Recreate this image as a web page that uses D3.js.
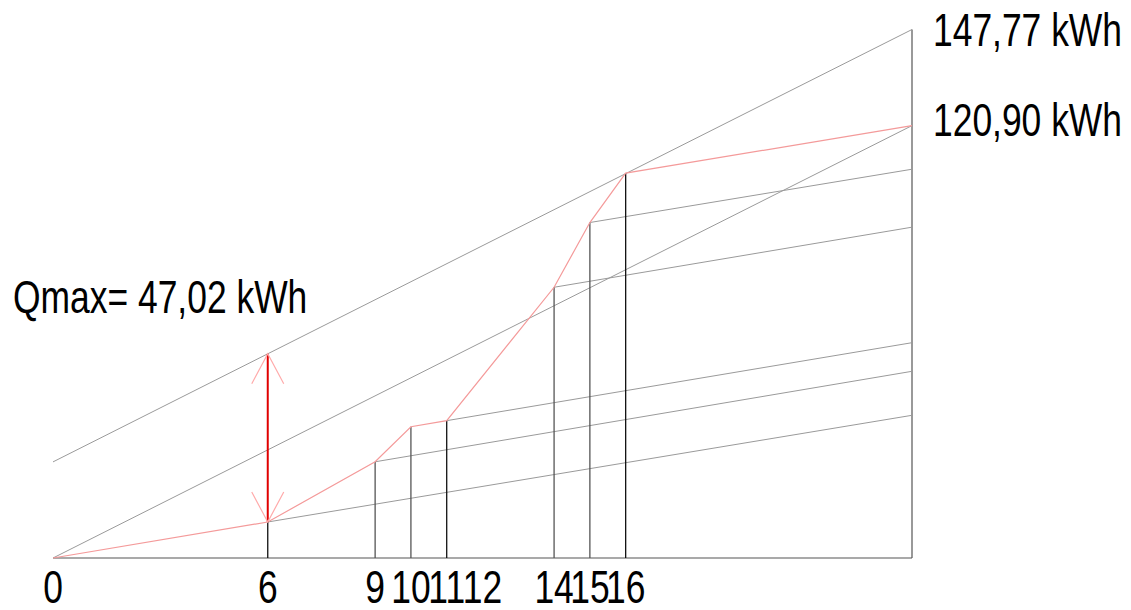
<!DOCTYPE html>
<html>
<head>
<meta charset="utf-8">
<script src="https://cdn.jsdelivr.net/npm/d3@7"></script>
<style>
  html, body { margin: 0; padding: 0; background: #fff; }
  text { font-family: Arial, 'Liberation Sans', sans-serif; fill: #000; }
</style>
</head>
<body>
<div id="chart"></div>
<script>
// cumulative consumption (red curve), hours vs kWh
const curveHours = [0, 6, 9, 10, 11, 14, 15, 16, 24];
const curveEnergy = [0, 10.07, 26.9, 36.7, 38.4, 75.7, 93.8, 107.6, 120.9];

// parallel guide lines starting at curve breakpoints, value reached at hour 24
const guideStartHours = [6, 9, 11, 14, 15];
const guideEndEnergy = [39.9, 52.2, 60.2, 92.5, 108.7];

// verticals drawn from the baseline up to the curve
const verticalHours = [6, 9, 10, 11, 14, 15, 16];

// tick labels on the hour axis
const tickHours = [0, 6, 9, 10, 11, 12, 14, 15, 16];

const totalEnergy = 120.9;
const maxEnergy = 147.77;
const offsetEnergy = maxEnergy - totalEnergy; // top line shift
const qmaxHour = 6;
const qmaxLabel = 'Qmax= 47,02 kWh';
const rightLabels = ['147,77 kWh', '120,90 kWh'];

const width = 1131, height = 610;
const margin = { left: 53, right: 219, top: 29.5, bottom: 52 };

const svg = d3.select('#chart')
    .append('svg')
    .attr('width', width)
    .attr('height', height);

const x = d3.scaleLinear().domain([0, 24]).range([margin.left, width - margin.right]);
const y = d3.scaleLinear().domain([0, maxEnergy]).range([height - margin.bottom, margin.top]);

const seg = (x1, y1, x2, y2, color, w) => svg.append('line')
    .attr('x1', x(x1)).attr('y1', y(y1))
    .attr('x2', x(x2)).attr('y2', y(y2))
    .attr('stroke', color)
    .attr('stroke-width', w);

// baseline and right edge
seg(0, 0, 24, 0, '#555', 1.2);
seg(24, 0, 24, maxEnergy, '#555', 1.2);

// mean line and the shifted upper line
seg(0, 0, 24, totalEnergy, '#9a9a9a', 1);
seg(0, offsetEnergy, 24, maxEnergy, '#9a9a9a', 1);

// guide lines
guideStartHours.forEach((h, i) => {
    const start = curveEnergy[curveHours.indexOf(h)];
    seg(h, start, 24, guideEndEnergy[i], '#9a9a9a', 1);
});

// verticals
verticalHours.forEach((h) => {
    const v = curveEnergy[curveHours.indexOf(h)];
    seg(h, 0, h, v, (h === 6 || h === 11 || h === 16) ? '#111' : '#555', 1.3);
});

// red cumulative curve
const line = d3.line()
    .x((d) => x(d[0]))
    .y((d) => y(d[1]));
svg.append('path')
    .datum(curveHours.map((h, i) => [h, curveEnergy[i]]))
    .attr('d', line)
    .attr('fill', 'none')
    .attr('stroke', '#f49a9a')
    .attr('stroke-width', 1.2);

// Qmax arrow
const qLow = curveEnergy[curveHours.indexOf(qmaxHour)];
const qHigh = offsetEnergy + totalEnergy * qmaxHour / 24;
seg(qmaxHour, qLow, qmaxHour, qHigh, '#e00000', 2);
const head = (tipY, dir) => {
    const tx = x(qmaxHour);
    svg.append('path')
        .attr('d', `M${tx - 16},${tipY + dir * 30}L${tx},${tipY}L${tx + 16},${tipY + dir * 30}`)
        .attr('fill', 'none')
        .attr('stroke', '#ffaaaa')
        .attr('stroke-width', 1.2);
};
head(y(qHigh), 1);
head(y(qLow), -1);

// texts (narrow rendering)
const label = (tx, ty, str, anchor) => svg.append('text')
    .attr('transform', `translate(${tx},${ty}) scale(0.77,1)`)
    .attr('text-anchor', anchor)
    .attr('font-size', 46)
    .text(str);

tickHours.forEach((h) => label(x(h), 603, String(h), 'middle'));
label(933, y(maxEnergy) + 16, rightLabels[0], 'start');
label(933, y(totalEnergy) + 10, rightLabels[1], 'start');
label(13, 313, qmaxLabel, 'start');
</script>
</body>
</html>
